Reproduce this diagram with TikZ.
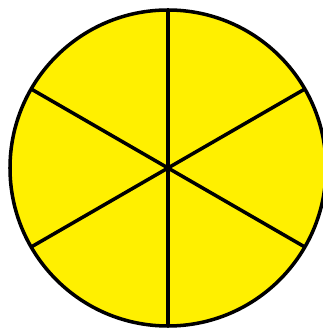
\documentclass[tikz,border=0pt]{standalone}
\usepackage{tikz}
\definecolor{pieyellow}{RGB}{255,240,0}

\begin{document}
\begin{tikzpicture}[x=0.02cm, y=0.02cm, rim/.style={draw=black, line width=2pt}]
\useasboundingbox (0,0) rectangle (323,328);
\coordinate (c) at (168,160);
\fill[pieyellow] (c) circle (158);
\foreach \a in {30,90,...,330}
  \draw[rim] (c) -- ++(\a:158);
\draw[rim] (c) circle (158);
\end{tikzpicture}
\end{document}
